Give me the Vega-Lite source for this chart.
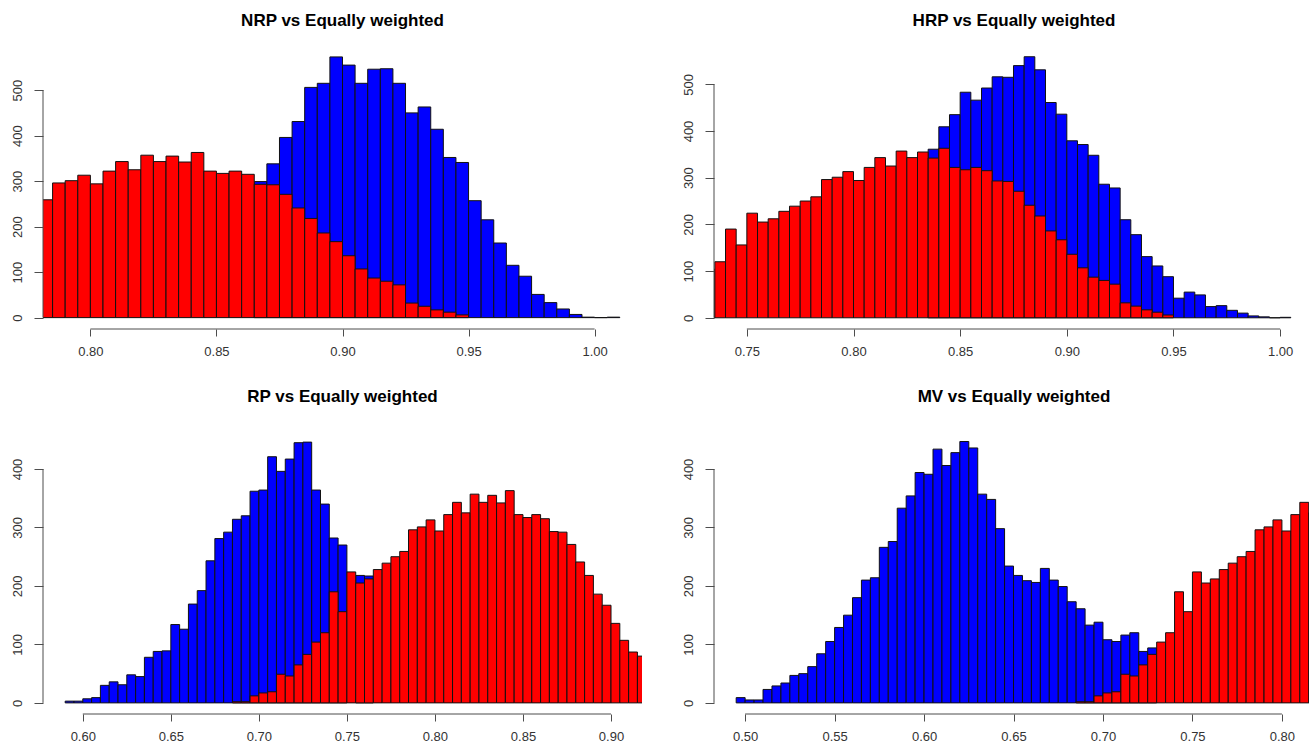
{
  "$schema": "https://vega.github.io/schema/vega-lite/v6.json",
  "background": "white",
  "padding": {"left": 10, "top": 12, "right": 0, "bottom": 0},
  "datasets": {
    "ew": [
      {"lo": 0.685, "hi": 0.690, "n": 2}, {"lo": 0.690, "hi": 0.695, "n": 2}, {"lo": 0.695, "hi": 0.700, "n": 12},
      {"lo": 0.700, "hi": 0.705, "n": 17}, {"lo": 0.705, "hi": 0.710, "n": 19}, {"lo": 0.710, "hi": 0.715, "n": 49},
      {"lo": 0.715, "hi": 0.720, "n": 46}, {"lo": 0.720, "hi": 0.725, "n": 65}, {"lo": 0.725, "hi": 0.730, "n": 83},
      {"lo": 0.730, "hi": 0.735, "n": 104}, {"lo": 0.735, "hi": 0.740, "n": 120}, {"lo": 0.740, "hi": 0.745, "n": 190},
      {"lo": 0.745, "hi": 0.750, "n": 156}, {"lo": 0.750, "hi": 0.755, "n": 224}, {"lo": 0.755, "hi": 0.760, "n": 205},
      {"lo": 0.760, "hi": 0.765, "n": 212}, {"lo": 0.765, "hi": 0.770, "n": 228}, {"lo": 0.770, "hi": 0.775, "n": 239},
      {"lo": 0.775, "hi": 0.780, "n": 250}, {"lo": 0.780, "hi": 0.785, "n": 259}, {"lo": 0.785, "hi": 0.790, "n": 296},
      {"lo": 0.790, "hi": 0.795, "n": 301}, {"lo": 0.795, "hi": 0.800, "n": 313}, {"lo": 0.800, "hi": 0.805, "n": 294},
      {"lo": 0.805, "hi": 0.810, "n": 322}, {"lo": 0.810, "hi": 0.815, "n": 343}, {"lo": 0.815, "hi": 0.820, "n": 325},
      {"lo": 0.820, "hi": 0.825, "n": 357}, {"lo": 0.825, "hi": 0.830, "n": 343}, {"lo": 0.830, "hi": 0.835, "n": 355},
      {"lo": 0.835, "hi": 0.840, "n": 342}, {"lo": 0.840, "hi": 0.845, "n": 363}, {"lo": 0.845, "hi": 0.850, "n": 322},
      {"lo": 0.850, "hi": 0.855, "n": 317}, {"lo": 0.855, "hi": 0.860, "n": 322}, {"lo": 0.860, "hi": 0.865, "n": 315},
      {"lo": 0.865, "hi": 0.870, "n": 293}, {"lo": 0.870, "hi": 0.875, "n": 292}, {"lo": 0.875, "hi": 0.880, "n": 271},
      {"lo": 0.880, "hi": 0.885, "n": 241}, {"lo": 0.885, "hi": 0.890, "n": 218}, {"lo": 0.890, "hi": 0.895, "n": 186},
      {"lo": 0.895, "hi": 0.900, "n": 167}, {"lo": 0.900, "hi": 0.905, "n": 136}, {"lo": 0.905, "hi": 0.910, "n": 107},
      {"lo": 0.910, "hi": 0.915, "n": 87}, {"lo": 0.915, "hi": 0.920, "n": 80}, {"lo": 0.920, "hi": 0.925, "n": 72},
      {"lo": 0.925, "hi": 0.930, "n": 32}, {"lo": 0.930, "hi": 0.935, "n": 25}, {"lo": 0.935, "hi": 0.940, "n": 17},
      {"lo": 0.940, "hi": 0.945, "n": 12}, {"lo": 0.945, "hi": 0.950, "n": 6}
    ],
    "nrp": [
      {"lo": 0.865, "hi": 0.870, "n": 299}, {"lo": 0.870, "hi": 0.875, "n": 338}, {"lo": 0.875, "hi": 0.880, "n": 396},
      {"lo": 0.880, "hi": 0.885, "n": 431}, {"lo": 0.885, "hi": 0.890, "n": 506}, {"lo": 0.890, "hi": 0.895, "n": 515},
      {"lo": 0.895, "hi": 0.900, "n": 573}, {"lo": 0.900, "hi": 0.905, "n": 555}, {"lo": 0.905, "hi": 0.910, "n": 515},
      {"lo": 0.910, "hi": 0.915, "n": 546}, {"lo": 0.915, "hi": 0.920, "n": 547}, {"lo": 0.920, "hi": 0.925, "n": 515},
      {"lo": 0.925, "hi": 0.930, "n": 450}, {"lo": 0.930, "hi": 0.935, "n": 463}, {"lo": 0.935, "hi": 0.940, "n": 414},
      {"lo": 0.940, "hi": 0.945, "n": 352}, {"lo": 0.945, "hi": 0.950, "n": 341}, {"lo": 0.950, "hi": 0.955, "n": 257},
      {"lo": 0.955, "hi": 0.960, "n": 215}, {"lo": 0.960, "hi": 0.965, "n": 164}, {"lo": 0.965, "hi": 0.970, "n": 115},
      {"lo": 0.970, "hi": 0.975, "n": 91}, {"lo": 0.975, "hi": 0.980, "n": 51}, {"lo": 0.980, "hi": 0.985, "n": 33},
      {"lo": 0.985, "hi": 0.990, "n": 19}, {"lo": 0.990, "hi": 0.995, "n": 7}, {"lo": 0.995, "hi": 1.000, "n": 1},
      {"lo": 1.000, "hi": 1.005, "n": 0}, {"lo": 1.005, "hi": 1.010, "n": 1}
    ],
    "hrp": [
      {"lo": 0.835, "hi": 0.840, "n": 361}, {"lo": 0.840, "hi": 0.845, "n": 409}, {"lo": 0.845, "hi": 0.850, "n": 435},
      {"lo": 0.850, "hi": 0.855, "n": 483}, {"lo": 0.855, "hi": 0.860, "n": 466}, {"lo": 0.860, "hi": 0.865, "n": 492},
      {"lo": 0.865, "hi": 0.870, "n": 516}, {"lo": 0.870, "hi": 0.875, "n": 515}, {"lo": 0.875, "hi": 0.880, "n": 540},
      {"lo": 0.880, "hi": 0.885, "n": 559}, {"lo": 0.885, "hi": 0.890, "n": 531}, {"lo": 0.890, "hi": 0.895, "n": 461},
      {"lo": 0.895, "hi": 0.900, "n": 436}, {"lo": 0.900, "hi": 0.905, "n": 379}, {"lo": 0.905, "hi": 0.910, "n": 371},
      {"lo": 0.910, "hi": 0.915, "n": 348}, {"lo": 0.915, "hi": 0.920, "n": 286}, {"lo": 0.920, "hi": 0.925, "n": 278},
      {"lo": 0.925, "hi": 0.930, "n": 210}, {"lo": 0.930, "hi": 0.935, "n": 178}, {"lo": 0.935, "hi": 0.940, "n": 131},
      {"lo": 0.940, "hi": 0.945, "n": 111}, {"lo": 0.945, "hi": 0.950, "n": 88}, {"lo": 0.950, "hi": 0.955, "n": 42},
      {"lo": 0.955, "hi": 0.960, "n": 55}, {"lo": 0.960, "hi": 0.965, "n": 49}, {"lo": 0.965, "hi": 0.970, "n": 24},
      {"lo": 0.970, "hi": 0.975, "n": 26}, {"lo": 0.975, "hi": 0.980, "n": 16}, {"lo": 0.980, "hi": 0.985, "n": 10},
      {"lo": 0.985, "hi": 0.990, "n": 4}, {"lo": 0.990, "hi": 0.995, "n": 2}, {"lo": 0.995, "hi": 1.000, "n": 0},
      {"lo": 1.000, "hi": 1.005, "n": 1}
    ],
    "rp": [
      {"lo": 0.590, "hi": 0.595, "n": 3}, {"lo": 0.595, "hi": 0.600, "n": 3}, {"lo": 0.600, "hi": 0.605, "n": 7},
      {"lo": 0.605, "hi": 0.610, "n": 9}, {"lo": 0.610, "hi": 0.615, "n": 30}, {"lo": 0.615, "hi": 0.620, "n": 36},
      {"lo": 0.620, "hi": 0.625, "n": 31}, {"lo": 0.625, "hi": 0.630, "n": 48}, {"lo": 0.630, "hi": 0.635, "n": 45},
      {"lo": 0.635, "hi": 0.640, "n": 78}, {"lo": 0.640, "hi": 0.645, "n": 88}, {"lo": 0.645, "hi": 0.650, "n": 89},
      {"lo": 0.650, "hi": 0.655, "n": 134}, {"lo": 0.655, "hi": 0.660, "n": 126}, {"lo": 0.660, "hi": 0.665, "n": 169},
      {"lo": 0.665, "hi": 0.670, "n": 192}, {"lo": 0.670, "hi": 0.675, "n": 243}, {"lo": 0.675, "hi": 0.680, "n": 281},
      {"lo": 0.680, "hi": 0.685, "n": 292}, {"lo": 0.685, "hi": 0.690, "n": 314}, {"lo": 0.690, "hi": 0.695, "n": 320},
      {"lo": 0.695, "hi": 0.700, "n": 362}, {"lo": 0.700, "hi": 0.705, "n": 364}, {"lo": 0.705, "hi": 0.710, "n": 421},
      {"lo": 0.710, "hi": 0.715, "n": 396}, {"lo": 0.715, "hi": 0.720, "n": 417}, {"lo": 0.720, "hi": 0.725, "n": 445},
      {"lo": 0.725, "hi": 0.730, "n": 446}, {"lo": 0.730, "hi": 0.735, "n": 364}, {"lo": 0.735, "hi": 0.740, "n": 340},
      {"lo": 0.740, "hi": 0.745, "n": 282}, {"lo": 0.745, "hi": 0.750, "n": 270}, {"lo": 0.755, "hi": 0.760, "n": 218},
      {"lo": 0.760, "hi": 0.765, "n": 217}
    ],
    "mv": [
      {"lo": 0.495, "hi": 0.500, "n": 9}, {"lo": 0.500, "hi": 0.505, "n": 5}, {"lo": 0.505, "hi": 0.510, "n": 5},
      {"lo": 0.510, "hi": 0.515, "n": 23}, {"lo": 0.515, "hi": 0.520, "n": 29}, {"lo": 0.520, "hi": 0.525, "n": 34},
      {"lo": 0.525, "hi": 0.530, "n": 47}, {"lo": 0.530, "hi": 0.535, "n": 50}, {"lo": 0.535, "hi": 0.540, "n": 62},
      {"lo": 0.540, "hi": 0.545, "n": 84}, {"lo": 0.545, "hi": 0.550, "n": 105}, {"lo": 0.550, "hi": 0.555, "n": 129},
      {"lo": 0.555, "hi": 0.560, "n": 150}, {"lo": 0.560, "hi": 0.565, "n": 180}, {"lo": 0.565, "hi": 0.570, "n": 210},
      {"lo": 0.570, "hi": 0.575, "n": 214}, {"lo": 0.575, "hi": 0.580, "n": 266}, {"lo": 0.580, "hi": 0.585, "n": 276},
      {"lo": 0.585, "hi": 0.590, "n": 333}, {"lo": 0.590, "hi": 0.595, "n": 354}, {"lo": 0.595, "hi": 0.600, "n": 394},
      {"lo": 0.600, "hi": 0.605, "n": 391}, {"lo": 0.605, "hi": 0.610, "n": 434}, {"lo": 0.610, "hi": 0.615, "n": 406},
      {"lo": 0.615, "hi": 0.620, "n": 428}, {"lo": 0.620, "hi": 0.625, "n": 447}, {"lo": 0.625, "hi": 0.630, "n": 436},
      {"lo": 0.630, "hi": 0.635, "n": 357}, {"lo": 0.635, "hi": 0.640, "n": 348}, {"lo": 0.640, "hi": 0.645, "n": 298},
      {"lo": 0.645, "hi": 0.650, "n": 234}, {"lo": 0.650, "hi": 0.655, "n": 218}, {"lo": 0.655, "hi": 0.660, "n": 209},
      {"lo": 0.660, "hi": 0.665, "n": 206}, {"lo": 0.665, "hi": 0.670, "n": 230}, {"lo": 0.670, "hi": 0.675, "n": 210},
      {"lo": 0.675, "hi": 0.680, "n": 199}, {"lo": 0.680, "hi": 0.685, "n": 173}, {"lo": 0.685, "hi": 0.690, "n": 161},
      {"lo": 0.690, "hi": 0.695, "n": 133}, {"lo": 0.695, "hi": 0.700, "n": 138}, {"lo": 0.700, "hi": 0.705, "n": 108},
      {"lo": 0.705, "hi": 0.710, "n": 105}, {"lo": 0.710, "hi": 0.715, "n": 116}, {"lo": 0.715, "hi": 0.720, "n": 120},
      {"lo": 0.720, "hi": 0.725, "n": 88}, {"lo": 0.725, "hi": 0.730, "n": 94}
    ]
  },
  "concat": [
    {
      "width": 599, "height": 283,
      "title": {"text": "NRP vs Equally weighted"},
      "layer": [
        {"data": {"name": "nrp"}, "mark": {"type": "bar", "clip": true, "fill": "#0000FF", "stroke": "#111111", "strokeWidth": 1},
         "encoding": {
           "x": {"field": "lo", "type": "quantitative", "scale": {"domain": [0.7812, 1.0188], "nice": false, "zero": false},
                 "axis": {"values": [0.8, 0.85, 0.9, 0.95, 1.0]}},
           "x2": {"field": "hi"},
           "y": {"field": "n", "type": "quantitative", "scale": {"domain": [-25, 597], "nice": false, "zero": false},
                 "axis": {"values": [0, 100, 200, 300, 400, 500]}},
           "y2": {"datum": 0}}},
        {"data": {"name": "ew"}, "mark": {"type": "bar", "clip": true, "fill": "#FF0000", "stroke": "#111111", "strokeWidth": 1},
         "encoding": {"x": {"field": "lo", "type": "quantitative"}, "x2": {"field": "hi"}, "y": {"field": "n", "type": "quantitative"}, "y2": {"datum": 0}}},
        {"data": {"values": [{}]}, "mark": {"type": "rule", "color": "#4d4d4d", "strokeWidth": 1},
         "encoding": {"x": {"datum": 0.8}, "x2": {"datum": 1.0}, "y": {"datum": -25}}},
        {"data": {"values": [{}]}, "mark": {"type": "rule", "color": "#4d4d4d", "strokeWidth": 1},
         "encoding": {"x": {"datum": 0.7812}, "y": {"datum": 0}, "y2": {"datum": 500}}}
      ]
    },
    {
      "width": 596, "height": 283,
      "title": {"text": "HRP vs Equally weighted", "dx": 2},
      "layer": [
        {"data": {"name": "hrp"}, "mark": {"type": "bar", "clip": true, "fill": "#0000FF", "stroke": "#111111", "strokeWidth": 1},
         "encoding": {
           "x": {"field": "lo", "type": "quantitative", "scale": {"domain": [0.7346, 1.014], "nice": false, "zero": false},
                 "axis": {"values": [0.75, 0.8, 0.85, 0.9, 0.95, 1.0]}},
           "x2": {"field": "hi"},
           "y": {"field": "n", "type": "quantitative", "scale": {"domain": [-24, 582], "nice": false, "zero": false},
                 "axis": {"values": [0, 100, 200, 300, 400, 500]}},
           "y2": {"datum": 0}}},
        {"data": {"name": "ew"}, "mark": {"type": "bar", "clip": true, "fill": "#FF0000", "stroke": "#111111", "strokeWidth": 1},
         "encoding": {"x": {"field": "lo", "type": "quantitative"}, "x2": {"field": "hi"}, "y": {"field": "n", "type": "quantitative"}, "y2": {"datum": 0}}},
        {"data": {"values": [{}]}, "mark": {"type": "rule", "color": "#4d4d4d", "strokeWidth": 1},
         "encoding": {"x": {"datum": 0.75}, "x2": {"datum": 1.0}, "y": {"datum": -24}}},
        {"data": {"values": [{}]}, "mark": {"type": "rule", "color": "#4d4d4d", "strokeWidth": 1},
         "encoding": {"x": {"datum": 0.7346}, "y": {"datum": 0}, "y2": {"datum": 500}}}
      ]
    },
    {
      "width": 599, "height": 283,
      "title": {"text": "RP vs Equally weighted", "offset": 25},
      "layer": [
        {"data": {"name": "rp"}, "mark": {"type": "bar", "clip": true, "fill": "#0000FF", "stroke": "#111111", "strokeWidth": 1},
         "encoding": {
           "x": {"field": "lo", "type": "quantitative", "scale": {"domain": [0.5774, 0.9176], "nice": false, "zero": false},
                 "axis": {"values": [0.6, 0.65, 0.7, 0.75, 0.8, 0.85, 0.9]}},
           "x2": {"field": "hi"},
           "y": {"field": "n", "type": "quantitative", "scale": {"domain": [-19, 465], "nice": false, "zero": false},
                 "axis": {"values": [0, 100, 200, 300, 400]}},
           "y2": {"datum": 0}}},
        {"data": {"name": "ew"}, "mark": {"type": "bar", "clip": true, "fill": "#FF0000", "stroke": "#111111", "strokeWidth": 1},
         "encoding": {"x": {"field": "lo", "type": "quantitative"}, "x2": {"field": "hi"}, "y": {"field": "n", "type": "quantitative"}, "y2": {"datum": 0}}},
        {"data": {"values": [{}]}, "mark": {"type": "rule", "color": "#4d4d4d", "strokeWidth": 1},
         "encoding": {"x": {"datum": 0.6}, "x2": {"datum": 0.9}, "y": {"datum": -19}}},
        {"data": {"values": [{}]}, "mark": {"type": "rule", "color": "#4d4d4d", "strokeWidth": 1},
         "encoding": {"x": {"datum": 0.5774}, "y": {"datum": 0}, "y2": {"datum": 400}}}
      ]
    },
    {
      "width": 596, "height": 283,
      "title": {"text": "MV vs Equally weighted", "dx": 2, "offset": 25},
      "layer": [
        {"data": {"name": "mv"}, "mark": {"type": "bar", "clip": true, "fill": "#0000FF", "stroke": "#111111", "strokeWidth": 1},
         "encoding": {
           "x": {"field": "lo", "type": "quantitative", "scale": {"domain": [0.4826, 0.8157], "nice": false, "zero": false},
                 "axis": {"values": [0.5, 0.55, 0.6, 0.65, 0.7, 0.75, 0.8]}},
           "x2": {"field": "hi"},
           "y": {"field": "n", "type": "quantitative", "scale": {"domain": [-19, 465], "nice": false, "zero": false},
                 "axis": {"values": [0, 100, 200, 300, 400]}},
           "y2": {"datum": 0}}},
        {"data": {"name": "ew"}, "mark": {"type": "bar", "clip": true, "fill": "#FF0000", "stroke": "#111111", "strokeWidth": 1},
         "encoding": {"x": {"field": "lo", "type": "quantitative"}, "x2": {"field": "hi"}, "y": {"field": "n", "type": "quantitative"}, "y2": {"datum": 0}}},
        {"data": {"values": [{}]}, "mark": {"type": "rule", "color": "#4d4d4d", "strokeWidth": 1},
         "encoding": {"x": {"datum": 0.5}, "x2": {"datum": 0.8}, "y": {"datum": -19}}},
        {"data": {"values": [{}]}, "mark": {"type": "rule", "color": "#4d4d4d", "strokeWidth": 1},
         "encoding": {"x": {"datum": 0.4826}, "y": {"datum": 0}, "y2": {"datum": 400}}}
      ]
    }
  ],
  "columns": 2,
  "spacing": {"row": 102, "column": 72},
  "bounds": "flush",
  "config": {
    "view": {"stroke": null},
    "font": "Liberation Sans",
    "title": {"font": "Liberation Sans", "fontSize": 17, "fontWeight": "bold", "color": "#000000", "anchor": "middle", "offset": 16},
    "axis": {"domain": false, "grid": false, "title": null, "tickColor": "#4d4d4d", "tickWidth": 1,
             "labelFont": "Liberation Sans", "labelFontSize": 13, "labelColor": "#333333", "labelFlush": false, "labelOverlap": false},
    "axisX": {"tickSize": 7, "labelPadding": 9, "format": ".2f"},
    "axisY": {"tickSize": 9, "labelPadding": 10, "labelAngle": 270, "labelAlign": "center", "labelBaseline": "bottom", "format": "d"}
  }
}
